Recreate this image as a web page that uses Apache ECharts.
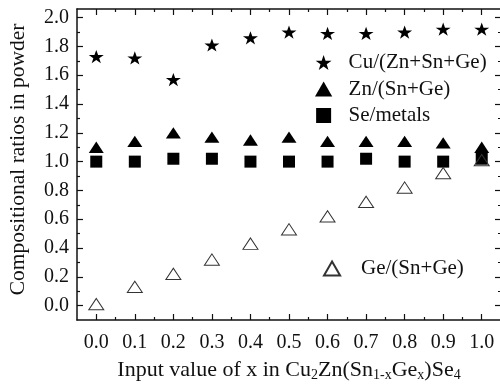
<!DOCTYPE html>
<html>
<head>
<meta charset="utf-8">
<script src="https://cdn.jsdelivr.net/npm/echarts@6/dist/echarts.min.js"></script>
<style>
html,body{margin:0;padding:0;background:#fff;}
#chart{width:500px;height:386px;}
</style>
</head>
<body>
<div id="chart"></div>
<script>
const xValues = [0.0, 0.1, 0.2, 0.3, 0.4, 0.5, 0.6, 0.7, 0.8, 0.9, 1.0];
const cuRatio = [1.73, 1.72, 1.57, 1.81, 1.86, 1.90, 1.89, 1.89, 1.90, 1.92, 1.92];
const znRatio = [1.10, 1.14, 1.20, 1.17, 1.15, 1.17, 1.14, 1.14, 1.14, 1.13, 1.10];
const seRatio = [1.00, 1.00, 1.02, 1.02, 1.00, 1.00, 1.00, 1.02, 1.00, 1.00, 1.02];
const geRatio = [0.01, 0.13, 0.22, 0.32, 0.43, 0.53, 0.62, 0.72, 0.82, 0.92, 1.01];
const xTicks = [0.0, 0.1, 0.2, 0.3, 0.4, 0.5, 0.6, 0.7, 0.8, 0.9, 1.0];
const xMinorTicks = [0.05, 0.15, 0.25, 0.35, 0.45, 0.55, 0.65, 0.75, 0.85, 0.95];
const yTicks = [0.0, 0.2, 0.4, 0.6, 0.8, 1.0, 1.2, 1.4, 1.6, 1.8, 2.0];
const yMinorTicks = [0.1, 0.3, 0.5, 0.7, 0.9, 1.1, 1.3, 1.5, 1.7, 1.9];
const seriesNames = ['Cu/(Zn+Sn+Ge)', 'Zn/(Sn+Ge)', 'Se/metals', 'Ge/(Sn+Ge)'];

const FONT = 'Liberation Serif';
const INK = '#111';
const STAR = 'path://M50,0 L61.8,35.1 L98.1,35.1 L68.8,56.7 L79.4,90.9 L50,69.1 L20.6,90.9 L31.2,56.7 L1.9,35.1 L38.2,35.1 Z';
const TRI = 'path://M50,0 L100,87 L0,87 Z';
const SQR = 'path://M0,0 L100,0 L100,100 L0,100 Z';

function pairs(ys) { return xValues.map((x, i) => [x, ys[i]]); }

function mkX(pos, ticks, len, showLine, showLabel) {
  return {
    type: 'value', position: pos, min: -0.05, max: 1.05,
    axisLine: { show: showLine, onZero: false, lineStyle: { color: INK, width: 1.5 } },
    axisTick: { show: true, inside: true, length: len, customValues: ticks, lineStyle: { color: INK, width: 1.2 } },
    axisLabel: { show: showLabel, customValues: ticks, margin: 13, fontFamily: FONT, fontSize: 20, color: INK,
      formatter: v => v.toFixed(1) },
    splitLine: { show: false }
  };
}
function mkY(pos, ticks, len, showLine, showLabel) {
  return {
    type: 'value', position: pos, min: -0.1, max: 2.06,
    axisLine: { show: showLine, onZero: false, lineStyle: { color: INK, width: 1.5 } },
    axisTick: { show: true, inside: true, length: len, customValues: ticks, lineStyle: { color: INK, width: 1.2 } },
    axisLabel: { show: showLabel, customValues: ticks, margin: 8, fontFamily: FONT, fontSize: 20, color: INK,
      formatter: v => v.toFixed(1) },
    splitLine: { show: false }
  };
}

const xMain = mkX('bottom', xTicks, 6, true, true);
xMain.name = 'Input value of x in Cu{s|2}Zn(Sn{s|1-x}Ge{s|x})Se{s|4}';
xMain.nameLocation = 'middle';
xMain.nameGap = 36;
xMain.nameTextStyle = {
  fontFamily: FONT, fontSize: 22, color: INK, lineHeight: 24,
  rich: { s: { fontFamily: FONT, fontSize: 14, color: INK, verticalAlign: 'bottom', lineHeight: 14, padding: [6, 0, 0, 0] } }
};
const yMain = mkY('left', yTicks, 6, true, true);
yMain.name = 'Compositional ratios in powder';
yMain.nameLocation = 'middle';
yMain.nameGap = 48;
yMain.nameTextStyle = { fontFamily: FONT, fontSize: 21.5, color: INK, padding: [0, 0, 0, 10] };

const chart = echarts.init(document.getElementById('chart'), null, { renderer: 'canvas' });
chart.setOption({
  backgroundColor: '#fff',
  animation: false,
  grid: { left: 77, top: 9, width: 424, height: 311, containLabel: false, outerBoundsMode: 'none' },
  xAxis: [
    xMain,
    mkX('bottom', xMinorTicks, 3, false, false),
    mkX('top', xTicks, 6, true, false),
    mkX('top', xMinorTicks, 3, false, false)
  ],
  yAxis: [
    yMain,
    mkY('left', yMinorTicks, 3, false, false),
    mkY('right', yTicks, 6, true, false),
    mkY('right', yMinorTicks, 3, false, false)
  ],
  legend: [
    {
      data: seriesNames.slice(0, 3), orient: 'vertical', left: 310, top: 47,
      itemWidth: 40, itemHeight: 15, itemGap: 5.5,
      textStyle: { fontFamily: FONT, fontSize: 21, color: INK }
    },
    {
      data: [seriesNames[3]], orient: 'vertical', left: 318, top: 253,
      itemWidth: 48, itemHeight: 14,
      textStyle: { fontFamily: FONT, fontSize: 21, color: INK }
    }
  ],
  series: [
    { name: seriesNames[0], type: 'scatter', data: pairs(cuRatio), symbol: STAR, symbolKeepAspect: true,
      symbolSize: [15, 14], itemStyle: { color: '#000', opacity: 1 } },
    { name: seriesNames[1], type: 'scatter', data: pairs(znRatio), symbol: TRI, symbolKeepAspect: true,
      symbolSize: [15, 13], itemStyle: { color: '#000', opacity: 1 } },
    { name: seriesNames[2], type: 'scatter', data: pairs(seRatio), symbol: SQR, symbolKeepAspect: true,
      symbolSize: [12, 12], itemStyle: { color: '#000', opacity: 1 } },
    { name: seriesNames[3], type: 'scatter', data: pairs(geRatio), symbol: TRI, symbolKeepAspect: true,
      symbolSize: [15, 13], z: 3,
      itemStyle: { color: 'rgba(255,255,255,0)', borderColor: '#333', borderWidth: 1, opacity: 1 } }
  ]
});
</script>
</body>
</html>
